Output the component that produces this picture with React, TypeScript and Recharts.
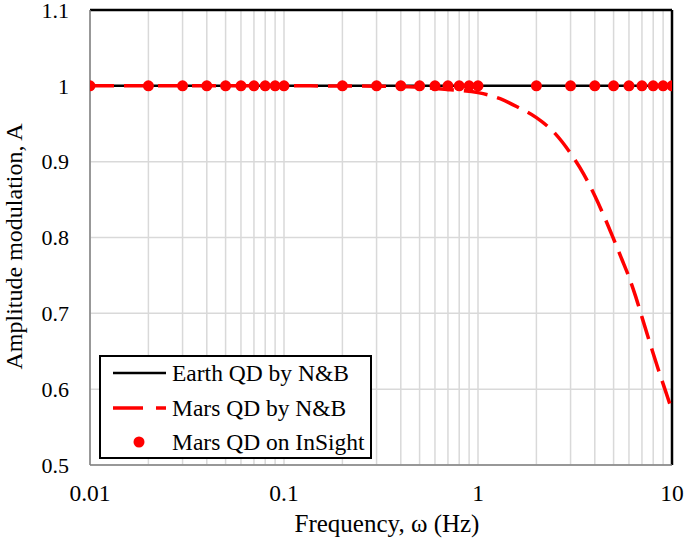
import React from 'react';
import { ComposedChart, Line, Scatter, XAxis, YAxis, CartesianGrid, ReferenceLine } from 'recharts';

const xTicks = [
  0.01, 0.02, 0.03, 0.04, 0.05, 0.06, 0.07, 0.08, 0.09,
  0.1, 0.2, 0.3, 0.4, 0.5, 0.6, 0.7, 0.8, 0.9,
  1, 2, 3, 4, 5, 6, 7, 8, 9, 10,
];
const xLabels = [0.01, 0.1, 1, 10];
const yTicks = [0.5, 0.6, 0.7, 0.8, 0.9, 1, 1.1];

const earthF = [0.01, 10];
const earthA = [1, 1];

const marsF = [0.01, 0.02, 0.05, 0.1, 0.2, 0.3, 0.5, 0.7, 1, 1.3, 1.6, 2, 2.5, 3, 3.5, 4, 4.5, 5, 5.5, 6, 6.5, 7, 7.5, 8, 8.5, 9, 9.5, 10];
const marsA = [1, 1, 1, 1, 0.9998, 0.9995, 0.998, 0.995, 0.991, 0.983, 0.972, 0.958, 0.937, 0.911, 0.884, 0.855, 0.826, 0.798, 0.772, 0.748, 0.722, 0.695, 0.67, 0.647, 0.626, 0.607, 0.589, 0.572];

const insightF = [
  0.01, 0.02, 0.03, 0.04, 0.05, 0.06, 0.07, 0.08, 0.09, 0.1,
  0.2, 0.3, 0.4, 0.5, 0.6, 0.7, 0.8, 0.9, 1,
  2, 3, 4, 5, 6, 7, 8, 9, 10,
];
const insightA = insightF.map(() => 1);

const earthData = earthF.map((f, i) => ({ f, a: earthA[i] }));
const marsData = marsF.map((f, i) => ({ f, a: marsA[i] }));
const insightData = insightF.map((f, i) => ({ f, a: insightA[i] }));

const FONT = 'Liberation Serif, Times New Roman, serif';
const RED = '#ff0000';
const textStyle = { fontFamily: FONT };

const fmtX = (v: number) => {
  const hit = xLabels.find((t) => Math.abs(t - v) / t < 1e-6);
  return hit === undefined ? '' : String(hit);
};
const fmtY = (v: number) => String(Math.round(v * 10) / 10);

const Dot = (props: any) => {
  const { cx, cy } = props;
  if (cx == null || cy == null) return null;
  return <circle cx={cx} cy={cy} r={5.5} fill={RED} />;
};

const YLabel = (props: any) => {
  const vb = props.viewBox || {};
  const x = (vb.x || 0) + 22;
  const y = (vb.y || 0) + (vb.height || 0) / 2 + 9;
  return (
    <text x={x} y={y} transform={`rotate(-90, ${x}, ${y})`} textAnchor="middle" fontSize={24} fill="#000" style={textStyle}>
      Amplitude modulation, A
    </text>
  );
};

const XLabel = (props: any) => {
  const vb = props.viewBox || {};
  const x = (vb.x || 0) + (vb.width || 0) / 2 + 6;
  const y = (vb.y || 0) + (vb.height || 0) - 13;
  return (
    <text x={x} y={y} textAnchor="middle" fontSize={25} fill="#000" style={textStyle}>
      Frequency, ω (Hz)
    </text>
  );
};

const Legend = () => (
  <div style={{ position: 'absolute', left: 99, top: 355, width: 273, height: 104 }}>
    <svg width={273} height={104} style={{ display: 'block' }}>
      <rect x={1} y={1} width={271} height={102} fill="#fff" stroke="#000" strokeWidth={2} />
      <line x1={14} x2={67} y1={18} y2={18} stroke="#000" strokeWidth={2.5} />
      <text x={73} y={26} fontSize={23.5} fill="#000" style={textStyle}>Earth QD by N&amp;B</text>
      <line x1={14} x2={67} y1={53} y2={53} stroke={RED} strokeWidth={3.5} strokeDasharray="30 13" />
      <text x={73} y={61} fontSize={23.5} fill="#000" style={textStyle}>Mars QD by N&amp;B</text>
      <circle cx={40} cy={87} r={5.5} fill={RED} />
      <text x={73} y={95} fontSize={23.5} fill="#000" style={textStyle}>Mars QD on InSight</text>
    </svg>
  </div>
);

export default function App() {
  return (
    <div style={{ position: 'absolute', left: 0, top: 0, width: 685, height: 545, background: '#fff', fontFamily: FONT }}>
      <ComposedChart width={685} height={545} margin={{ top: 10, right: 13, left: 0, bottom: 0 }} style={textStyle}>
        <CartesianGrid stroke="#d9d9d9" strokeWidth={1.5} />
        <XAxis
          type="number"
          dataKey="f"
          scale="log"
          domain={[0.01, 10]}
          ticks={xTicks}
          interval={0}
          tickFormatter={fmtX}
          allowDataOverflow
          height={80}
          tickLine={false}
          tickSize={0}
          tickMargin={19}
          axisLine={{ stroke: '#7f7f7f', strokeWidth: 1.5 }}
          tick={{ fill: '#000', fontSize: 23.5, fontFamily: FONT, style: textStyle }}
          label={<XLabel />}
        />
        <YAxis
          type="number"
          domain={[0.5, 1.1]}
          ticks={yTicks}
          interval={0}
          tickFormatter={fmtY}
          allowDataOverflow
          width={90}
          tickLine={false}
          tickSize={0}
          tickMargin={21}
          axisLine={{ stroke: '#7f7f7f', strokeWidth: 1.5 }}
          tick={{ fill: '#000', fontSize: 22, fontFamily: FONT, style: textStyle }}
          label={<YLabel />}
        />
        <ReferenceLine y={1.1} stroke="#000" strokeWidth={2.5} ifOverflow="visible" />
        <ReferenceLine x={10} stroke="#000" strokeWidth={2.5} ifOverflow="visible" />
        <Line data={earthData} dataKey="a" stroke="#000" strokeWidth={2.5} dot={false} isAnimationActive={false} />
        <Line data={marsData} dataKey="a" type="monotone" stroke={RED} strokeWidth={3.5} strokeDasharray="24 10" dot={false} isAnimationActive={false} />
        <Scatter data={insightData} dataKey="a" shape={Dot} isAnimationActive={false} />
      </ComposedChart>
      <Legend />
    </div>
  );
}
